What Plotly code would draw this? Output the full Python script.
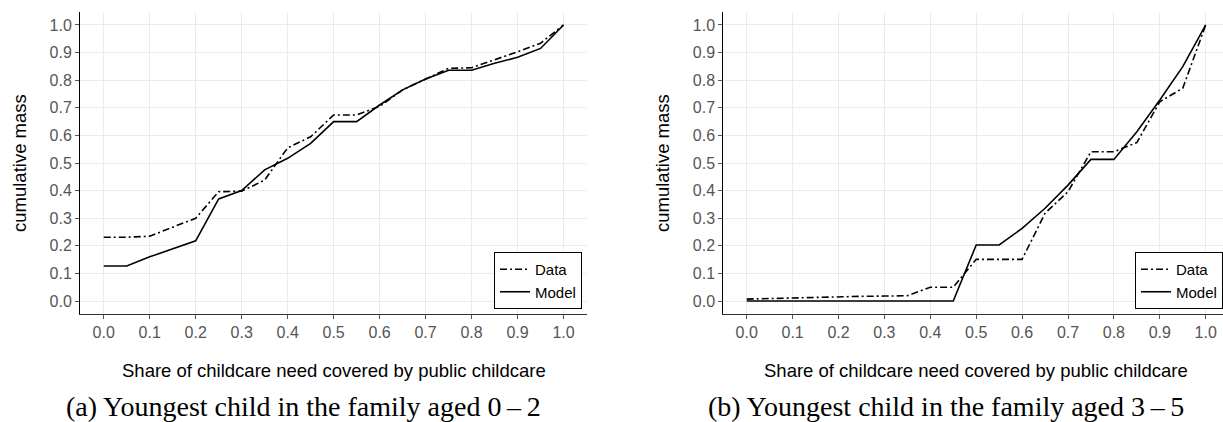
import plotly.graph_objects as go

# ---- data ----
share = [0.0, 0.05, 0.1, 0.15, 0.2, 0.25, 0.3, 0.35, 0.4, 0.45, 0.5,
         0.55, 0.6, 0.65, 0.7, 0.75, 0.8, 0.85, 0.9, 0.95, 1.0]

a_data = [0.231, 0.231, 0.235, 0.268, 0.300, 0.396, 0.398, 0.438, 0.555, 0.595, 0.674,
          0.674, 0.705, 0.765, 0.804, 0.843, 0.845, 0.873, 0.903, 0.934, 1.0]
a_model = [0.127, 0.127, 0.160, 0.190, 0.218, 0.370, 0.400, 0.475, 0.517, 0.571, 0.650,
           0.650, 0.710, 0.765, 0.804, 0.836, 0.836, 0.861, 0.883, 0.915, 1.0]

b_data = [0.007, 0.009, 0.012, 0.015, 0.016, 0.017, 0.018, 0.019, 0.050, 0.050, 0.151,
          0.151, 0.151, 0.318, 0.396, 0.541, 0.541, 0.574, 0.722, 0.771, 1.0]
b_model = [0.0, 0.0, 0.0, 0.0, 0.0, 0.0, 0.0, 0.0, 0.0, 0.0, 0.203,
           0.203, 0.263, 0.336, 0.420, 0.513, 0.513, 0.613, 0.728, 0.849, 1.0]

tick_vals = [0.0, 0.1, 0.2, 0.3, 0.4, 0.5, 0.6, 0.7, 0.8, 0.9, 1.0]
tick_text = ["0.0", "0.1", "0.2", "0.3", "0.4", "0.5", "0.6", "0.7", "0.8", "0.9", "1.0"]

x_title = "Share of childcare need covered by public childcare"
y_title = "cumulative mass"
captions = ["(a) Youngest child in the family aged 0\u2009\u2013\u20092",
            "(b) Youngest child in the family aged 3\u2009\u2013\u20095"]

W, H = 1223, 422
SANS = "Liberation Sans, Arial, sans-serif"
SERIF = "Liberation Serif, Times New Roman, serif"
DASH = "7px,3px,2px,3px"
TICKC = "#555555"

fig = go.Figure()
for i, (dat, mod) in enumerate([(a_data, a_model), (b_data, b_model)]):
    xa = "x" if i == 0 else "x2"
    ya = "y" if i == 0 else "y2"
    lg = "legend" if i == 0 else "legend2"
    fig.add_trace(go.Scatter(x=share, y=dat, mode="lines", name="Data",
                             line=dict(color="black", width=1.6, dash=DASH),
                             xaxis=xa, yaxis=ya, legend=lg))
    fig.add_trace(go.Scatter(x=share, y=mod, mode="lines", name="Model",
                             line=dict(color="black", width=1.6),
                             xaxis=xa, yaxis=ya, legend=lg))

ydom = [(422 - 314) / H, (422 - 12) / H]
common_x = dict(tickvals=tick_vals, ticktext=tick_text, showgrid=True, gridcolor="#ebebeb",
                gridwidth=1, zeroline=False, showline=True, linecolor="#333333", linewidth=1,
                ticks="outside", ticklen=4, tickcolor=TICKC, tickwidth=1,
                tickfont=dict(family=SANS, size=16, color=TICKC))
common_y = dict(tickvals=tick_vals, ticktext=tick_text, showgrid=True, gridcolor="#ebebeb",
                gridwidth=1, zeroline=False, showline=True, linecolor="black", linewidth=1,
                ticks="outside", ticklen=4, tickcolor=TICKC, tickwidth=1,
                tickfont=dict(family=SANS, size=16, color=TICKC),
                range=[-0.047, 1.047], domain=ydom)

leg = dict(bgcolor="white", bordercolor="black", borderwidth=1,
           font=dict(family=SANS, size=15, color="black"),
           tracegroupgap=0, itemwidth=30, xanchor="right", yanchor="bottom",
           y=(422 - 309) / H)

fig.update_layout(
    width=W, height=H, margin=dict(l=0, r=0, t=0, b=0),
    plot_bgcolor="white", paper_bgcolor="white",
    xaxis=dict(common_x, domain=[80 / W, 587 / W], range=[-0.0516, 1.051], anchor="y"),
    yaxis=dict(common_y, anchor="x"),
    xaxis2=dict(common_x, domain=[723.3 / W, 1.0], range=[-0.051, 1.0377], anchor="y2"),
    yaxis2=dict(common_y, anchor="x2"),
    legend=dict(leg, x=582 / W),
    legend2=dict(leg, x=1.0),
    showlegend=True,
)

annots = []
for cx, ytx in [((80 + 587) / 2, 19), ((723 + 1229) / 2, 662)]:
    annots.append(dict(text=x_title, x=cx / W, y=(422 - 370) / H, xref="paper", yref="paper",
                       xanchor="center", yanchor="middle", showarrow=False,
                       font=dict(family=SANS, size=18.5, color="black")))
    annots.append(dict(text=y_title, x=ytx / W, y=(422 - 163) / H, xref="paper", yref="paper",
                       xanchor="center", yanchor="middle", showarrow=False, textangle=-90,
                       font=dict(family=SANS, size=18.5, color="black")))
for cap, capx in zip(captions, [303, 946]):
    annots.append(dict(text=cap, x=capx / W, y=(422 - 406) / H, xref="paper", yref="paper",
                       xanchor="center", yanchor="middle", showarrow=False,
                       font=dict(family=SERIF, size=28, color="black")))
fig.update_layout(annotations=annots)

fig.write_html("out.html", config={"displayModeBar": False},
               post_script="document.body.style.margin='0';document.body.style.padding='0';")
